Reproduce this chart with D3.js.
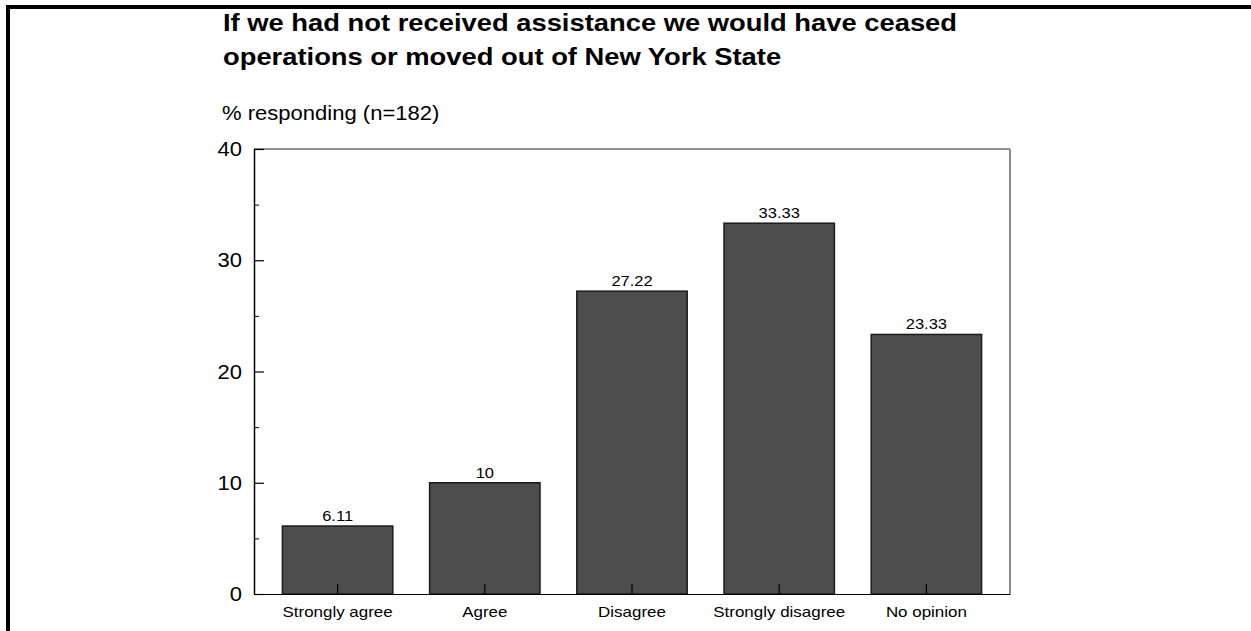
<html>
<head>
<meta charset="utf-8">
<style>
    body { margin:0; background:#fff; }
    text { font-family: "Liberation Sans", Arial, sans-serif; fill:#000; }
    .title { font-weight:bold; font-size:24px; }
    .sub { font-size:19.5px; }
    .ytick { font-size:20px; }
    .val { font-size:15px; }
    .cat { font-size:15px; }
    .bar { fill:#4d4d4d; stroke:#1c1c1c; stroke-width:1.5px; }
</style>
</head>
<body>
<div id="chart"></div>
<script src="https://cdnjs.cloudflare.com/ajax/libs/d3/7.8.5/d3.min.js"></script>
<script>
    var width = 1251, height = 631;

    var categories = ["Strongly agree", "Agree", "Disagree", "Strongly disagree", "No opinion"];
    var values = [6.11, 10, 27.22, 33.33, 23.33];
    var valueLabels = ["6.11", "10", "27.22", "33.33", "23.33"];
    var yTicks = [0, 10, 20, 30, 40];
    var yMinorTicks = [5, 15, 25, 35];
    var titleLines = ["If we had not received assistance we would have ceased",
                      "operations or moved out of New York State"];
    var subtitle = "% responding (n=182)";

    var plot = {left:254, right:1010, top:149, bottom:594};

    var svg = d3.select("#chart").append("svg")
        .attr("width", width).attr("height", height);

    var x = d3.scaleBand().domain(categories)
        .range([plot.left, plot.right])
        .paddingInner(0.25).paddingOuter(0.193);
    var y = d3.scaleLinear().domain([0, 40]).range([plot.bottom, plot.top]);

    // text in the picture is stretched sideways a little
    function stretched(sel, px, py, sx) {
        sel.attr("transform", "translate(" + px + "," + py + ") scale(" + sx + ",1)");
    }

    // page border (top and left)
    svg.append("rect").attr("x", 6).attr("y", 5).attr("width", width).attr("height", 4).attr("fill", "#000");
    svg.append("rect").attr("x", 6).attr("y", 5).attr("width", 4).attr("height", height).attr("fill", "#000");

    // title + subtitle
    titleLines.forEach(function(t, i) {
        svg.append("text").attr("class", "title").text(t)
            .call(stretched, 223, 31 + i * 34, 1.14);
    });
    svg.append("text").attr("class", "sub").text(subtitle).call(stretched, 222, 120, 1.13);

    // frame top + right
    svg.append("line").attr("x1", plot.left).attr("x2", plot.right)
        .attr("y1", plot.top).attr("y2", plot.top)
        .attr("stroke", "#222").attr("stroke-width", 1.2);
    svg.append("line").attr("x1", plot.right).attr("x2", plot.right)
        .attr("y1", plot.top).attr("y2", plot.bottom)
        .attr("stroke", "#8a8a8a").attr("stroke-width", 2);

    // bars
    svg.append("g").selectAll("rect")
        .data(values).enter().append("rect")
        .attr("class", "bar")
        .attr("x", (d, i) => x(categories[i]))
        .attr("width", x.bandwidth())
        .attr("y", d => y(d))
        .attr("height", d => y(0) - y(d));

    // value labels
    svg.append("g").selectAll("text")
        .data(values).enter().append("text")
        .attr("class", "val").attr("text-anchor", "middle")
        .text((d, i) => valueLabels[i])
        .each(function(d, i) {
            d3.select(this).call(stretched, x(categories[i]) + x.bandwidth() / 2, y(d) - 5, 1.1);
        });

    // x axis: baseline, ticks pointing up into the bars
    var xAxis = d3.axisBottom(x).tickSize(-10).tickSizeOuter(0).tickFormat("");
    var gx = svg.append("g").attr("transform", "translate(0," + plot.bottom + ")").call(xAxis);
    gx.select(".domain").attr("stroke", "#000").attr("stroke-width", 1.2);
    gx.selectAll(".tick line").attr("stroke", "#000").attr("stroke-width", 1.2);

    svg.append("g").selectAll("text")
        .data(categories).enter().append("text")
        .attr("class", "cat").attr("text-anchor", "middle")
        .text(d => d)
        .each(function(d) {
            d3.select(this).call(stretched, x(d) + x.bandwidth() / 2, 617, 1.13);
        });

    // y axis: ticks pointing inward
    var yAxis = d3.axisLeft(y).tickValues(yTicks).tickSize(-10).tickSizeOuter(0).tickFormat("");
    var gy = svg.append("g").attr("transform", "translate(" + plot.left + ",0)").call(yAxis);
    gy.select(".domain").attr("stroke", "#000").attr("stroke-width", 1.5);
    gy.selectAll(".tick line").attr("stroke", "#000").attr("stroke-width", 1.2);

    var yMinor = d3.axisLeft(y).tickValues(yMinorTicks).tickSize(-5).tickFormat("");
    var gym = svg.append("g").attr("transform", "translate(" + plot.left + ",0)").call(yMinor);
    gym.select(".domain").remove();
    gym.selectAll(".tick line").attr("stroke", "#000").attr("stroke-width", 1);

    svg.append("g").selectAll("text")
        .data(yTicks).enter().append("text")
        .attr("class", "ytick").attr("text-anchor", "end")
        .text(d => d)
        .each(function(d) {
            d3.select(this).call(stretched, 242, y(d) + 7, 1.1);
        });
</script>
</body>
</html>
